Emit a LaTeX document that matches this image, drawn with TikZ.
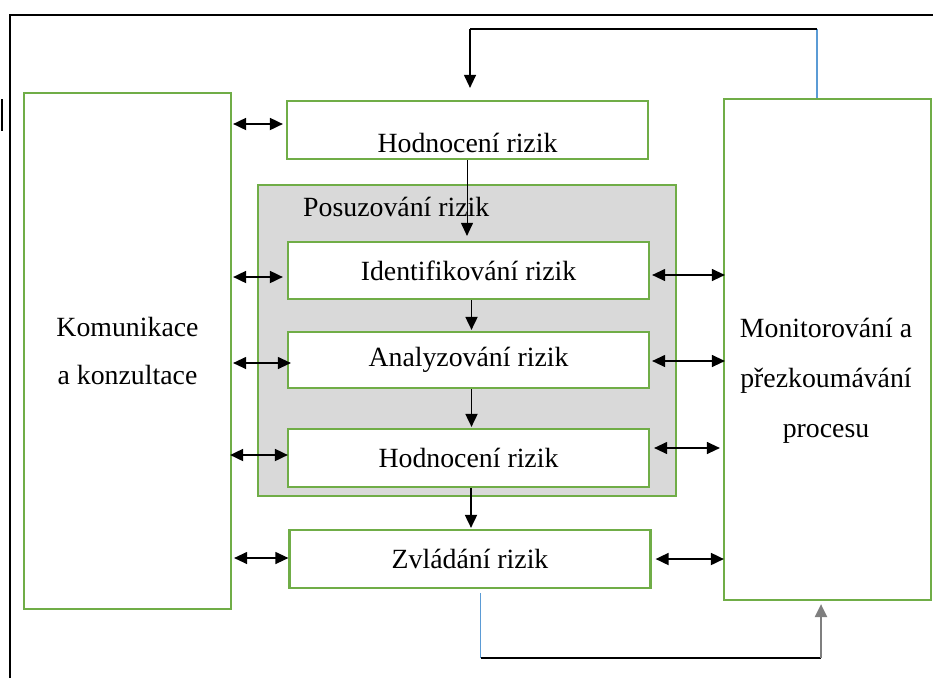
\documentclass[tikz,border=0pt]{standalone}
\usepackage{fontspec}
\setmainfont{Liberation Serif}
\usetikzlibrary{arrows.meta}
\definecolor{rgreen}{HTML}{70AD47}
\definecolor{rblue}{HTML}{5B9BD5}
\definecolor{rgray}{HTML}{D9D9D9}
\definecolor{rdark}{HTML}{7F7F7F}
\newcommand{\rizfont}{\fontsize{27.8}{48}\selectfont}
\newcommand{\monfont}{\fontsize{27.8}{50}\selectfont}

\begin{document}
\begin{tikzpicture}[x=1pt,y=-1pt,
  >={Triangle[length=13pt,width=12pt]},
  zbox/.style={draw=rgreen,line width=2.2pt,fill=white,inner sep=0pt,font=\rizfont},
  inbox/.style={zbox,minimum width=361,minimum height=57},
  obous/.style={<->,line width=1.2pt},
  dolu/.style={->,line width=1.8pt}]
\useasboundingbox (0,0) rectangle (933,678);
\draw[line width=2.5pt] (10,678) -- (10,15) -- (933,15) ; % ramecek
\draw[line width=1.5pt] (2,99) -- (2,131) ; % okraj
\node[zbox,minimum width=207,minimum height=516,align=center] (komunikace) at (127.5,351) {Komunikace\\a konzultace};
\node[zbox,minimum width=207,minimum height=501] (monitor) at (827.5,349.5) {};
\node[font=\monfont,align=center] (monitorText) at (826,381) {Monitorování a\\přezkoumávání\\procesu};
\node[zbox,minimum width=361,minimum height=58] (hodnTop) at (467.5,130) {};
\node[font=\rizfont,anchor=base] (hodnTopText) at (467.5,152) {Hodnocení rizik};
\node[draw=rgreen,line width=2.2pt,fill=rgray,minimum width=418,minimum height=311] (posuzovani) at (467,340.5) {};
\node[font=\rizfont,anchor=base west,inner sep=0pt] (posuzText) at (303,216) {Posuzování rizik};
\node[inbox] (ident) at (468.5,270.5) {Identifikování rizik};
\node[inbox,minimum height=56] (analyz) at (468.5,360) {Analyzování rizik};
\node[inbox,minimum height=58] (hodnB) at (468.5,458) {Hodnocení rizik};
\node[inbox,minimum height=58] (zvlad) at (470,559) {Zvládání rizik};
% sipky vlevo
\draw[obous,line width=1.8pt,shorten <=1pt,shorten >=3pt] (komunikace.east |- 0,124) -- (hodnTop.west |- 0,124) ;
\draw[obous,line width=1.8pt,shorten <=1pt,shorten >=4pt] (komunikace.east |- 0,277) -- (ident.west |- 0,277) ;
\draw[obous,shorten <=1pt,shorten >=-4pt] (komunikace.east |- 0,363) -- (analyz.west |- 0,363) ;
\draw[obous,line width=1.8pt,shorten <=-2pt,shorten >=-1pt] (komunikace.east |- 0,455) -- (hodnB.west |- 0,455) ;
\draw[obous,shorten <=2pt,shorten >=0pt] (komunikace.east |- 0,558) -- (zvlad.west |- 0,558) ;
% sipky vpravo
\draw[obous,shorten <=2pt,shorten >=-2pt] (ident.east |- 0,275) -- (monitor.west |- 0,275) ;
\draw[obous,shorten <=2pt,shorten >=-2pt] (analyz.east |- 0,361) -- (monitor.west |- 0,361) ;
\draw[obous,shorten <=4pt,shorten >=3pt] (hodnB.east |- 0,448) -- (monitor.west |- 0,448) ;
\draw[obous,line width=1.8pt,shorten <=4pt,shorten >=-1pt] (zvlad.east |- 0,559) -- (monitor.west |- 0,559) ;
% sipky dolu
\draw[->,line width=1pt,shorten >=5pt] (hodnTop.south -| 467,0) -- (ident.north -| 467,0) ;
\draw[dolu,shorten >=1pt] (ident.south -| 471.5,0) -- (analyz.north -| 471.5,0) ;
\draw[dolu,shorten >=1pt] (analyz.south -| 471.5,0) -- (hodnB.north -| 471.5,0) ;
\draw[dolu,shorten >=1pt] (hodnB.south -| 471,0) -- (zvlad.north -| 471,0) ;
% horni smycka
\coordinate (horniP) at (817,29) ;
\coordinate (horniL) at (470,29) ;
\draw[rblue,line width=1.6pt] (monitor.north -| horniP) -- (horniP) ;
\draw[line width=2.5pt] (horniP) -- (horniL) ;
\draw[->,line width=1.2pt,shorten >=12pt] (horniL) -- (hodnTop.north -| horniL) ;
% dolni smycka
\coordinate (dolniL) at (480.5,658) ;
\coordinate (dolniP) at (821,658) ;
\draw[rblue,line width=1.4pt,shorten <=4pt] (zvlad.south -| dolniL) -- (dolniL) ;
\draw[line width=2.5pt] (dolniL) -- (dolniP) ;
\draw[->,rdark,line width=2.2pt,shorten >=3pt] (dolniP) -- (monitor.south -| dolniP) ;
\end{tikzpicture}
\end{document}
